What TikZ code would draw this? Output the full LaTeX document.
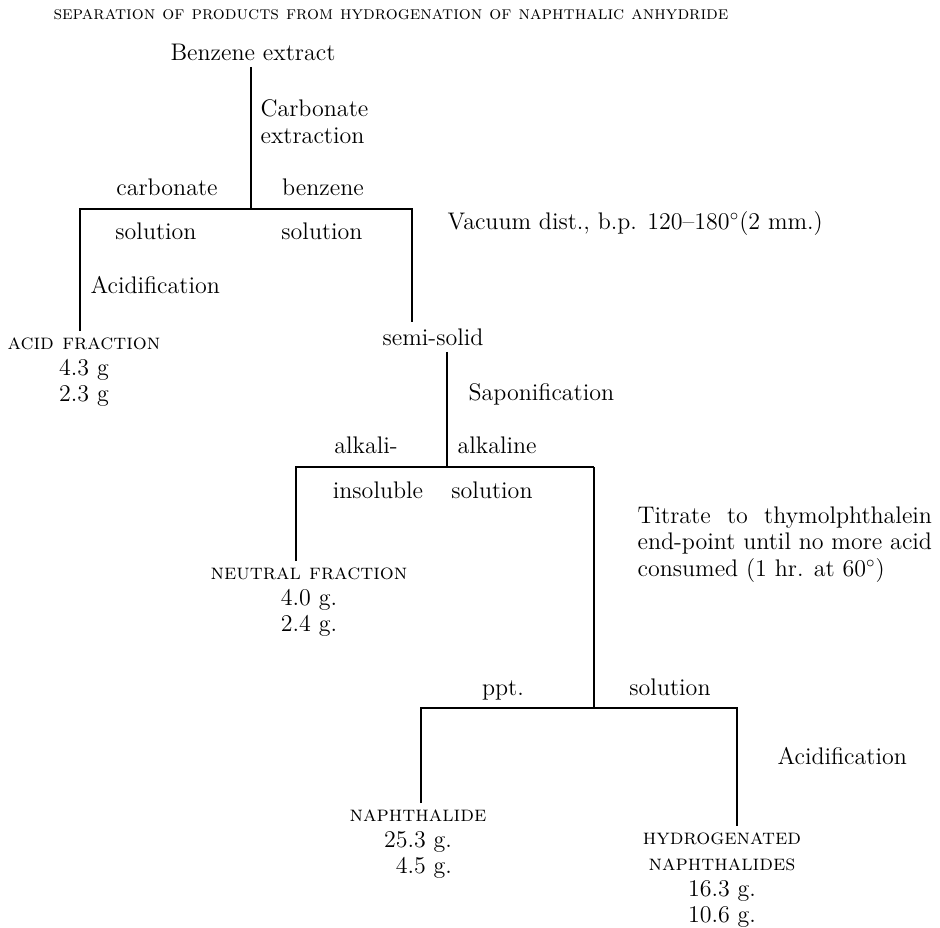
\documentclass[tikz,border=0pt]{standalone}
\usepackage{tikz}
\usepackage{amsmath}
\usepackage{calc}

\begin{document}
\begin{tikzpicture}[x=0.5pt,y=0.5pt,line width=0.6pt,
  txt/.style={anchor=base,font=\fontsize{12}{13}\selectfont},
  txtl/.style={anchor=base west,font=\fontsize{12}{13}\selectfont},
  frac/.style={anchor=north,align=center,font=\fontsize{12}{13}\selectfont}]
\tikzstyle{every node}+=[inner sep=0pt]
\useasboundingbox (0,0) rectangle (940,-927);
% heading
\node (title) at (391,-15) {\fontsize{9.4}{10}\selectfont\textsc{separation of products from hydrogenation of naphthalic anhydride}};
% benzene extract and first split
\node [txt] (benz) at (253,-60) {Benzene extract};
\node [anchor=north west,align=left,font=\fontsize{12}{13.5}\selectfont] (carbx) at (260,-99) {Carbonate\\extraction};
\coordinate (j1) at (251,-209);
\coordinate (j1l) at (80,-209);
\coordinate (j1r) at (412,-209);
\node [txt] (carb) at (167,-195) {carbonate};
\node [txt] (benzs) at (323,-195) {benzene};
\node [txt] (sol1) at (156,-239) {solution};
\node [txt] (sol2) at (322,-239) {solution};
\node [txtl] (acidif1) at (90,-293) {Acidification};
\node [txtl] (vac) at (447,-229) {Vacuum dist., b.p. 120--180$^{\circ}$(2 mm.)};
\node [frac] (acid) at (84,-337) {\textsc{\fontsize{11}{13}\selectfont acid fraction}\\4.3 g\\2.3 g};
\node [txt] (semi) at (433,-345) {semi-solid};
\draw [shorten <=3pt] (benz.south -| j1) -- (j1);
\draw [shorten <=3pt,shorten >=3pt] (j1l |- acid.north) -- (j1l) -- (j1r) -- (j1r |- semi.north);
% saponification
\coordinate (j2) at (447,-467);
\coordinate (j2l) at (296,-467);
\coordinate (j2r) at (594,-467);
\node [txtl] (sapon) at (468,-400) {Saponification};
\node [txt] (alk1) at (366,-453) {alkali-};
\node [txtl] (alk2) at (457,-453) {alkaline};
\node [txt] (insol) at (378,-498) {insoluble};
\node [txt] (sol3) at (492,-498) {solution};
\node [frac] (neut) at (309,-567) {\textsc{\fontsize{11}{13}\selectfont neutral fraction}\\4.0 g.\\2.4 g.};
\draw [shorten <=3pt] (semi.south -| j2) -- (j2);
\draw [shorten <=3pt] (j2l |- neut.north) -- (j2l) -- (j2r);
% titration
\node [anchor=north west,align=left,font=\fontsize{12}{13.2}\selectfont] (titr) at (637,-506)
  {\makebox[\widthof{end-point until no more acid}][s]{Titrate to thymolphthalein}\\end-point until no more acid\\consumed (1 hr. at 60$^{\circ}$)};
\coordinate (j3) at (594,-708);
\coordinate (j3l) at (421,-708);
\coordinate (j3r) at (737,-708);
\node [txt] (ppt) at (503,-695) {ppt.};
\node [txt] (sol4) at (670,-695) {solution};
\node [txtl] (acidif2) at (777,-764) {Acidification};
\node [frac] (naph) at (418,-809) {\textsc{\fontsize{11}{13}\selectfont naphthalide}\\25.3 g.\\\phantom{2}4.5 g.};
\node [frac] (hydro) at (722,-832) {\textsc{\fontsize{11}{13}\selectfont hydrogenated}\\\textsc{\fontsize{11}{13}\selectfont naphthalides}\\16.3 g.\\10.6 g.};
\draw (j2r) -- (j3);
\draw [shorten <=3pt,shorten >=3pt] (j3l |- naph.north) -- (j3l) -- (j3r) -- (j3r |- hydro.north);
\end{tikzpicture}
\end{document}
